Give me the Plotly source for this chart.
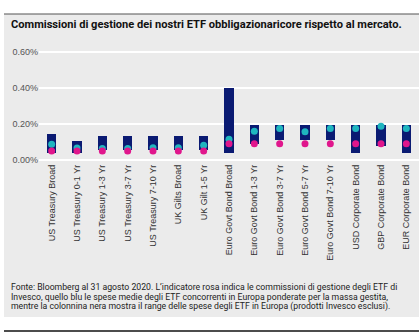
import plotly.graph_objects as go

categories = ["US Treasury Broad", "US Treasury 0-1 Yr", "US Treasury 1-3 Yr", "US Treasury 3-7 Yr",
              "US Treasury 7-10 Yr", "UK Gilts Broad", "UK Gilt 1-5 Yr", "Euro Govt Bond Broad",
              "Euro Govt Bond 1-3 Yr", "Euro Govt Bond 3-7 Yr", "Euro Govt Bond 5-7 Yr",
              "Euro Govt Bond 7-10 Yr", "USD Corporate Bond", "GBP Corporate Bond", "EUR Corporate Bond"]
range_low = [0.040, 0.040, 0.058, 0.058, 0.058, 0.058, 0.058, 0.040, 0.090, 0.110, 0.110, 0.110, 0.040, 0.078, 0.040]
range_high = [0.145, 0.105, 0.135, 0.131, 0.135, 0.135, 0.135, 0.400, 0.195, 0.195, 0.195, 0.195, 0.195, 0.195, 0.195]
avg_competitors = [0.088, 0.066, 0.064, 0.064, 0.068, 0.068, 0.082, 0.115, 0.160, 0.175, 0.157, 0.175, 0.175, 0.188, 0.175]
invesco_fee = [0.050, 0.050, 0.050, 0.050, 0.050, 0.050, 0.050, 0.090, 0.090, 0.090, 0.090, 0.090, 0.090, 0.090, 0.090]
y_ticks = [0.0, 0.2, 0.4, 0.6]
y_tick_labels = ["0.00%", "0.20%", "0.40%", "0.60%"]

title = "Commissioni di gestione dei nostri ETF obbligazionaricore rispetto al mercato."
foot_lines = [
    "Fonte: Bloomberg al 31 agosto 2020. L\u2019indicatore rosa indica le commissioni di gestione degli ETF di",
    "Invesco, quello blu le spese medie degli ETF concorrenti in Europa ponderate per la massa gestita,",
    "mentre la colonnina nera mostra il range delle spese degli ETF in Europa (prodotti Invesco esclusi).",
]

NAVY = "#0a1a72"
TEAL = "#1fb5bf"
PINK = "#e0168c"
PANEL = "#ebebeb"

W, H = 419, 334
ML, MR, MT, MB = 39, 0, 45, 172
PW = W - ML - MR
PH = H - MT - MB

def px(p):
    return (p - ML) / PW

def py(p):
    return (H - MB - p) / PH

fig = go.Figure()
fig.add_trace(go.Bar(
    x=categories,
    y=[h - l for h, l in zip(range_high, range_low)],
    base=range_low,
    width=0.36,
    marker=dict(color=NAVY, line=dict(width=0)),
    hoverinfo="skip",
))
fig.add_trace(go.Scatter(
    x=categories, y=avg_competitors, mode="markers",
    marker=dict(color=TEAL, size=7, line=dict(width=0)),
))
fig.add_trace(go.Scatter(
    x=categories, y=invesco_fee, mode="markers",
    marker=dict(color=PINK, size=7, line=dict(width=0)),
))

shapes = [
    dict(type="rect", xref="paper", yref="paper", x0=px(4), x1=px(419), y0=py(317), y1=py(14),
         fillcolor=PANEL, line=dict(width=0), layer="below"),
    dict(type="line", xref="paper", yref="paper", x0=px(4), x1=px(419), y0=py(14), y1=py(14),
         line=dict(color="#555555", width=1.2)),
    dict(type="line", xref="paper", yref="paper", x0=px(4), x1=px(419), y0=py(331), y1=py(331),
         line=dict(color="#111111", width=1.5)),
]

annotations = [
    dict(text="<b>" + title + "</b>", xref="paper", yref="paper", x=px(9), y=py(24.5),
         xanchor="left", yanchor="middle", showarrow=False,
         font=dict(family="Roboto", size=11.1, color="#111111")),
]
for i, line in enumerate(foot_lines):
    annotations.append(dict(text=line, xref="paper", yref="paper", x=px(9), y=py(287 + 9.6 * i),
                            xanchor="left", yanchor="middle", showarrow=False,
                            font=dict(family="Roboto", size=8.7, color="#222222")))

fig.update_layout(
    width=W, height=H,
    margin=dict(l=ML, r=MR, t=MT, b=MB),
    paper_bgcolor="white",
    plot_bgcolor="rgba(0,0,0,0)",
    showlegend=False,
    bargap=0,
    shapes=shapes,
    annotations=annotations,
    xaxis=dict(
        range=[-0.5, 14.5], tickangle=-90, showgrid=False, zeroline=False, showline=False,
        ticks="", tickfont=dict(family="Liberation Sans", size=9, color="#333333"),
        fixedrange=True,
    ),
    yaxis=dict(
        range=[-0.0111, 0.6389], tickvals=y_ticks, ticktext=y_tick_labels,
        showgrid=True, gridcolor="white", gridwidth=1.6, zeroline=False, showline=False,
        ticks="", tickfont=dict(family="Liberation Sans", size=9, color="#555555"),
        fixedrange=True,
    ),
)

fig.write_html("out.html")
